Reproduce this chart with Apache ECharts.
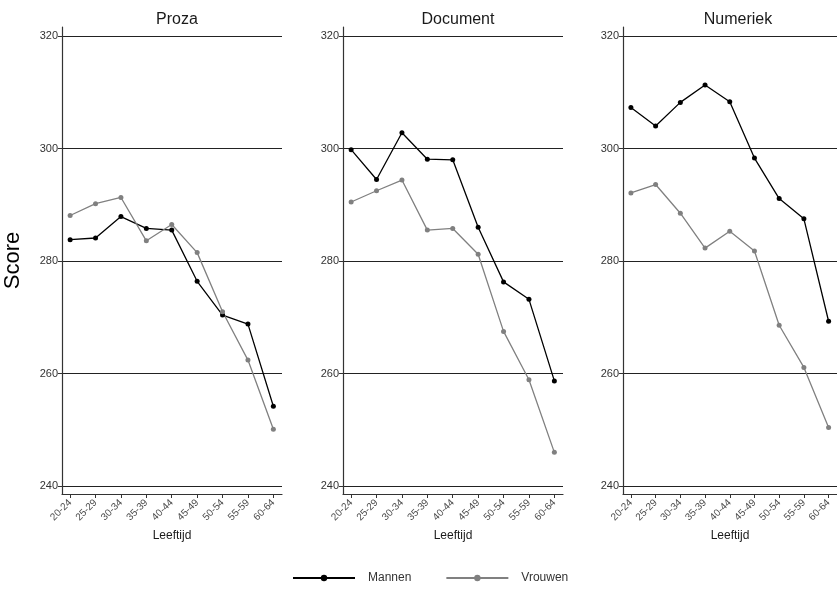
<!DOCTYPE html>
<html>
<head>
	<meta charset="utf-8">
	<title>Score per leeftijd</title>
	<script src="https://cdn.jsdelivr.net/npm/echarts@6/dist/echarts.min.js"></script>
	<style>
		body { margin: 0; background: #fff; }
	</style>
</head>
<body>
	<div id="main" style="width: 837px;height: 592px;"></div>
<script>
	var ageGroups = ['20-24', '25-29', '30-34', '35-39', '40-44', '45-49', '50-54', '55-59', '60-64'];
	var panels = ['Proza', 'Document', 'Numeriek'];
	var yTicks = [240, 260, 280, 300, 320];

	var prozaMannen = [283.8, 284.1, 287.9, 285.8, 285.5, 276.4, 270.4, 268.8, 254.2];
	var prozaVrouwen = [288.1, 290.2, 291.3, 283.6, 286.5, 281.5, 271.0, 262.4, 250.1];
	var documentMannen = [299.8, 294.5, 302.8, 298.1, 298.0, 286.0, 276.3, 273.2, 258.7];
	var documentVrouwen = [290.5, 292.5, 294.4, 285.5, 285.8, 281.2, 267.5, 258.9, 246.0];
	var numeriekMannen = [307.3, 304.0, 308.2, 311.3, 308.3, 298.3, 291.1, 287.5, 269.3];
	var numeriekVrouwen = [292.1, 293.6, 288.5, 282.3, 285.3, 281.8, 268.6, 261.1, 250.4];

	var mannen = [prozaMannen, documentMannen, numeriekMannen];
	var vrouwen = [prozaVrouwen, documentVrouwen, numeriekVrouwen];

	var gridLefts = [62, 343, 623];
	var tickIdx = ageGroups.map(function (g, i) { return i; });

	function pairs(values) {
		return values.map(function (v, i) { return [i, v]; });
	}

	var grids = [], xAxes = [], yAxes = [], titles = [], series = [];
	for (var p = 0; p < 3; p++) {
		grids.push({ left: gridLefts[p], top: 27, width: 220, height: 467 });
		titles.push({
			text: panels[p],
			left: gridLefts[p] + 110,
			top: 7,
			textAlign: 'center',
			textStyle: { fontSize: 16, fontWeight: 'normal', color: '#1a1a1a', fontFamily: 'Liberation Sans' }
		});
		xAxes.push({
			type: 'value',
			gridIndex: p,
			min: -0.32,
			max: 8.34,
			name: 'Leeftijd',
			nameLocation: 'middle',
			nameGap: 34,
			nameTextStyle: { fontSize: 12, color: '#1a1a1a', fontFamily: 'Liberation Sans' },
			splitLine: { show: false },
			axisLine: { onZero: false, lineStyle: { color: '#333', width: 1.2 } },
			axisTick: { customValues: tickIdx, length: 4, lineStyle: { color: '#333' } },
			axisLabel: {
				customValues: tickIdx,
				rotate: 45,
				margin: 7,
				fontSize: 10,
				color: '#4d4d4d',
				fontFamily: 'Liberation Sans',
				formatter: function (v) { return ageGroups[v]; }
			}
		});
		yAxes.push({
			type: 'value',
			gridIndex: p,
			min: 238.6,
			max: 321.6,
			name: p === 0 ? 'Score' : '',
			nameLocation: 'middle',
			nameGap: 38,
			nameTextStyle: { fontSize: 22, color: '#000', fontFamily: 'Liberation Sans' },
			axisLine: { show: true, onZero: false, lineStyle: { color: '#333', width: 1.2 } },
			axisTick: { show: true, customValues: yTicks, length: 4, lineStyle: { color: '#333' } },
			axisLabel: { customValues: yTicks, margin: 4, fontSize: 11, color: '#333', fontFamily: 'Liberation Sans' },
			splitLine: { show: true, lineStyle: { color: '#222', width: 1 } }
		});
		series.push({
			name: 'Mannen', type: 'line', xAxisIndex: p, yAxisIndex: p,
			data: pairs(mannen[p]),
			symbol: 'circle', symbolSize: 5,
			lineStyle: { color: '#000', width: 1.3 },
			itemStyle: { color: '#000' }
		});
		series.push({
			name: 'Vrouwen', type: 'line', xAxisIndex: p, yAxisIndex: p,
			data: pairs(vrouwen[p]),
			symbol: 'circle', symbolSize: 5,
			lineStyle: { color: '#808080', width: 1.3 },
			itemStyle: { color: '#808080' }
		});
	}

	var chart = echarts.init(document.getElementById('main'));
	chart.setOption({
		animation: false,
		title: titles,
		grid: grids,
		xAxis: xAxes,
		yAxis: yAxes,
		legend: {
			data: ['Mannen', 'Vrouwen'],
			left: 287,
			top: 567,
			itemWidth: 62,
			itemHeight: 8,
			itemGap: 34,
			textStyle: { fontSize: 12, color: '#333', fontFamily: 'Liberation Sans', padding: [0, 0, 0, 8] }
		},
		series: series
	});
</script>
</body>
</html>
